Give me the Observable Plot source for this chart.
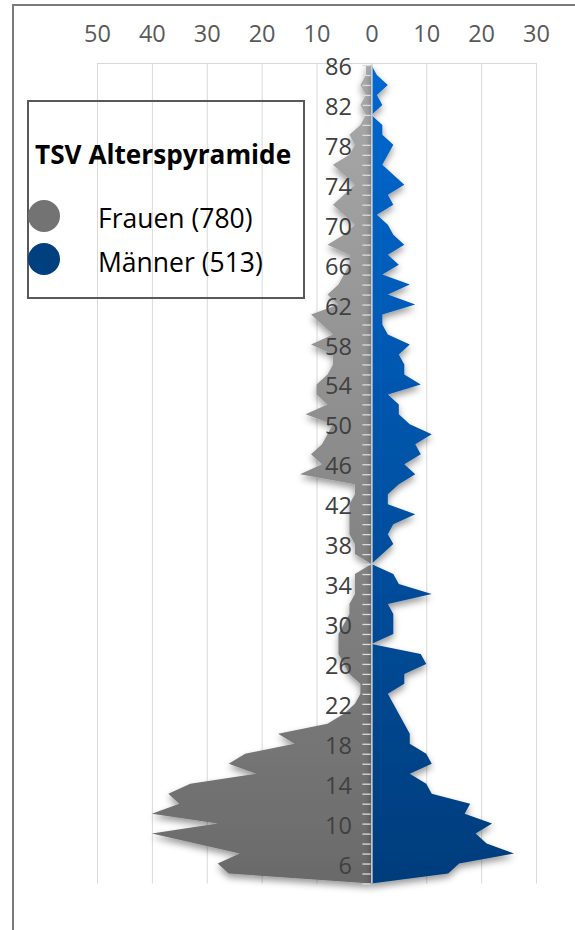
<!DOCTYPE html>
<html>
<head>
<meta charset="utf-8">
<script src="https://cdn.jsdelivr.net/npm/d3@7"></script>
<script src="https://cdn.jsdelivr.net/npm/@observablehq/plot@0.6"></script>
<style>
html,body{margin:0;padding:0;background:#fff;}
body{width:575px;height:930px;position:relative;overflow:hidden;font-family:"Open Sans",sans-serif;}
#chart{position:absolute;left:0;top:0;}
#frame{position:absolute;left:12px;top:4px;width:700px;height:1000px;border-left:2px solid #7a7a7a;border-top:2px solid #7a7a7a;pointer-events:none;}
#legend{position:absolute;left:27px;top:100px;width:278px;height:199px;border:2px solid #595959;box-sizing:border-box;pointer-events:none;}
.lg{position:absolute;white-space:nowrap;color:#000;}
.ttl{left:35px;top:139px;font-size:26.2px;line-height:30px;font-weight:700;}
.item{left:98px;font-size:26.5px;line-height:32px;}
.dot{position:absolute;width:32px;height:32px;border-radius:50%;left:28px;}
</style>
</head>
<body>
<div id="chart"></div>
<div id="frame"></div>
<div id="legend"></div>
<div class="lg ttl">TSV Alterspyramide</div>
<div class="dot" style="top:200px;background:#737373;"></div>
<div class="lg item" style="top:202px;">Frauen (780)</div>
<div class="dot" style="top:243px;background:#00407f;"></div>
<div class="lg item" style="top:246px;">Männer (513)</div>
<script>
// ages (categories), from youngest to oldest
const ages = [4,5,6,7,8,9,10,11,12,13,14,15,16,17,18,19,20,21,22,23,24,25,26,27,28,29,30,31,32,33,34,35,36,37,38,39,40,41,42,43,44,45,46,47,48,49,50,51,52,53,54,55,56,57,58,59,60,61,62,63,64,65,66,67,68,69,70,71,72,73,74,75,76,77,78,79,80,81,82,83,84,85,86];
// Frauen (780)
const women = [0,26,28,24,32,40,28,40,35,37,
  33,21,26,23,14,17,8,5,3,2,
  2,4,5,6,6,6,5,4,4,3,
  3,3,0,3,3,4,4,4,4,3,
  3,13,9,11,9,8,7,12,8,10,
  10,8,7,7,11,7,9,11,6,8,
  6,5,4,4,8,5,3,5,7,5,
  3,5,7,4,3,4,2,1,2,1,
  2,1,1];
// Männer (513)
const men = [0,14,16,26,21,19,22,17,18,11,
  10,7,11,10,7,7,6,5,4,3,
  6,6,10,9,0,4,4,4,3,11,
  5,4,0,2,4,3,4,8,3,3,
  5,8,6,9,8,11,7,5,5,3,
  9,6,6,5,7,3,2,2,8,3,
  7,2,5,3,6,4,3,1,4,3,
  6,4,2,3,4,2,2,0,2,1,
  3,1,0];
const xTicks = [-50,-40,-30,-20,-10,0,10,20,30];
const yLabels = [6,10,14,18,22,26,30,34,38,42,46,50,54,58,62,66,70,74,78,82,86];

const data = ages.map((a,i)=>({age:a, women:women[i], men:men[i]}));

const plot = Plot.plot({
  width: 575, height: 930,
  marginLeft: 97, marginRight: 39, marginTop: 63, marginBottom: 46.5,
  x: {domain: [-50, 30], axis: null},
  y: {domain: [4, 86.2], axis: null},
  style: {fontFamily: "'Open Sans', sans-serif", background: "transparent", overflow: "visible"},
  marks: [
    Plot.ruleX(xTicks, {x: d=>d, y1: 4, y2: 86.2, stroke: "#d9d9d9", strokeWidth: 1}),
    Plot.ruleY([86.2], {y: d=>d, x1: -50, x2: 30, stroke: "#d9d9d9", strokeWidth: 1}),
    Plot.areaX(data, {y: "age", x1: 0, x2: d => -d.women, fill: "url(#gGray)"}),
    Plot.areaX(data, {y: "age", x1: 0, x2: "men", fill: "url(#gBlue)"}),
    Plot.ruleX([0], {x: d=>d, y1: 4, y2: 86.2, stroke: "#d9d9d9", strokeWidth: 1.5}),
    Plot.ruleY(ages, {y: d=>d, x1: -1.64, x2: -0.15, stroke: "#dcdcdc", strokeWidth: 1.3}),
    Plot.text(yLabels, {x: 0, y: d=>d, dx: -20, dy: 2, text: d=>String(d), textAnchor: "end", fontSize: 23.5, fill: "#404040"}),
    Plot.text(xTicks, {x: d=>d, frameAnchor: "top", dy: -38.5, text: d=>String(Math.abs(d)), fontSize: 23.5, fill: "#595959"})
  ]
});

const svg = d3.select(plot);
const defs = svg.insert("defs", ":first-child");
const g1 = defs.append("linearGradient").attr("id","gGray").attr("gradientUnits","userSpaceOnUse")
  .attr("x1",0).attr("y1",63).attr("x2",0).attr("y2",884);
g1.append("stop").attr("offset","0").attr("stop-color","#aaaaaa");
g1.append("stop").attr("offset","1").attr("stop-color","#6a6a6a");
const g2 = defs.append("linearGradient").attr("id","gBlue").attr("gradientUnits","userSpaceOnUse")
  .attr("x1",0).attr("y1",63).attr("x2",0).attr("y2",884);
g2.append("stop").attr("offset","0").attr("stop-color","#0068d0");
g2.append("stop").attr("offset","1").attr("stop-color","#003d7c");
const f = defs.append("filter").attr("id","shadow").attr("x","-20%").attr("y","-5%").attr("width","140%").attr("height","110%");
f.append("feDropShadow").attr("dx",0).attr("dy",4).attr("stdDeviation",3.5)
  .attr("flood-color","#000").attr("flood-opacity",0.4);
svg.selectAll('g[aria-label="area"]').attr("filter","url(#shadow)");

document.getElementById("chart").appendChild(plot);
</script>
</body>
</html>
